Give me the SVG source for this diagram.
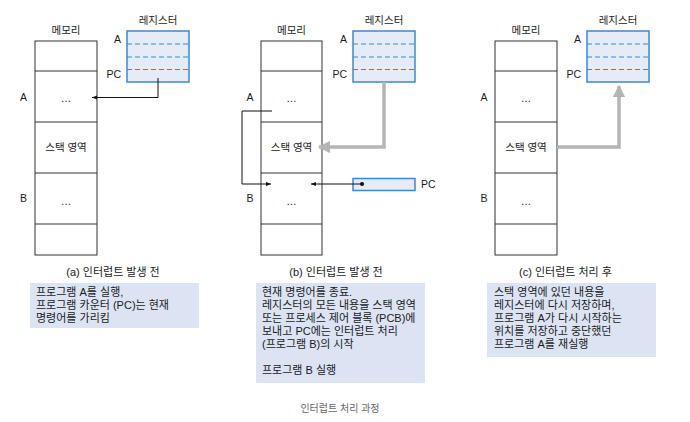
<svg xmlns="http://www.w3.org/2000/svg" width="690" height="422" viewBox="0 0 690 422">
<style>
text{font-family:"Liberation Sans","Noto Sans CJK KR",sans-serif;fill:#1a1a1a;}
.lbl{font-size:10.5px;}
.body{font-size:11px;}
.mid{text-anchor:middle;}
.end{text-anchor:end;}
.mem{fill:#fff;stroke:#333;stroke-width:1;}
.reg{fill:#e4ecf8;stroke:#3d88d4;stroke-width:1.5;}
.dash{stroke:#3d88d4;stroke-width:1.2;stroke-dasharray:5,3;}
.row{stroke:#333;stroke-width:1;}
.blk{fill:none;stroke:#111;stroke-width:1;}
.gray{fill:none;stroke:#b5b5b5;stroke-width:3.5;}
.tb{fill:#dce4f4;}
.cap{font-size:11px;}
.foot{font-size:10px;fill:#666;}
</style>
<defs>
<marker id="ah" viewBox="0 0 10 10" refX="10" refY="5" markerWidth="5" markerHeight="5" orient="auto" markerUnits="userSpaceOnUse"><path d="M0,1 L10,5 L0,9 z" fill="#111"/></marker>
<marker id="gh" viewBox="0 0 10 10" refX="9" refY="5" markerWidth="3.5" markerHeight="3.5" orient="auto"><path d="M0,0 L10,5 L0,10 z" fill="#b5b5b5"/></marker>
</defs>

<!-- Panel A -->
<g id="memA">
<text class="lbl mid" x="66" y="34">메모리</text>
<rect class="mem" x="35" y="41" width="62" height="214"/>
<line class="row" x1="35" y1="71" x2="97" y2="71"/>
<line class="row" x1="35" y1="122" x2="97" y2="122"/>
<line class="row" x1="35" y1="173" x2="97" y2="173"/>
<line class="row" x1="35" y1="224" x2="97" y2="224"/>
<text class="lbl mid" x="66" y="102">…</text>
<text class="lbl mid" x="66" y="151">스택 영역</text>
<text class="lbl mid" x="66" y="205">…</text>
<text class="lbl mid" x="23.5" y="101">A</text>
<text class="lbl mid" x="23.5" y="202">B</text>
</g>
<g id="regA">
<text class="lbl mid" x="158" y="24">레지스터</text>
<rect class="reg" x="127" y="31" width="62" height="51"/>
<line class="dash" x1="127" y1="44" x2="189" y2="44"/>
<line class="dash" x1="127" y1="57" x2="189" y2="57"/>
<line class="dash" x1="127" y1="69.5" x2="189" y2="69.5"/>
<text class="lbl end" x="121" y="43">A</text>
<text class="lbl end" x="121" y="78">PC</text>
</g>

<!-- Panel B -->
<g id="memB">
<text class="lbl mid" x="291.5" y="34">메모리</text>
<rect class="mem" x="261" y="41" width="61" height="214"/>
<line class="row" x1="261" y1="71" x2="322" y2="71"/>
<line class="row" x1="261" y1="122" x2="322" y2="122"/>
<line class="row" x1="261" y1="173" x2="322" y2="173"/>
<line class="row" x1="261" y1="224" x2="322" y2="224"/>
<text class="lbl mid" x="291.5" y="102">…</text>
<text class="lbl mid" x="291.5" y="151">스택 영역</text>
<text class="lbl mid" x="291.5" y="205">…</text>
<text class="lbl mid" x="250" y="101">A</text>
<text class="lbl mid" x="250" y="202">B</text>
</g>
<g id="regB">
<text class="lbl mid" x="384" y="24">레지스터</text>
<rect class="reg" x="353" y="31" width="62" height="51"/>
<line class="dash" x1="353" y1="44" x2="415" y2="44"/>
<line class="dash" x1="353" y1="57" x2="415" y2="57"/>
<line class="dash" x1="353" y1="69.5" x2="415" y2="69.5"/>
<text class="lbl end" x="347" y="43">A</text>
<text class="lbl end" x="347" y="78">PC</text>
</g>
<g id="pcB">
<rect class="reg" x="353" y="178.5" width="62" height="12"/>
<text class="lbl" x="421" y="188">PC</text>
</g>

<!-- Panel C -->
<g id="memC">
<text class="lbl mid" x="526" y="34">메모리</text>
<rect class="mem" x="495" y="41" width="62" height="214"/>
<line class="row" x1="495" y1="71" x2="557" y2="71"/>
<line class="row" x1="495" y1="122" x2="557" y2="122"/>
<line class="row" x1="495" y1="173" x2="557" y2="173"/>
<line class="row" x1="495" y1="224" x2="557" y2="224"/>
<text class="lbl mid" x="526" y="102">…</text>
<text class="lbl mid" x="526" y="151">스택 영역</text>
<text class="lbl mid" x="526" y="205">…</text>
<text class="lbl mid" x="484" y="101">A</text>
<text class="lbl mid" x="484" y="202">B</text>
</g>
<g id="regC">
<text class="lbl mid" x="618" y="24">레지스터</text>
<rect class="reg" x="587" y="31" width="62" height="51"/>
<line class="dash" x1="587" y1="44" x2="649" y2="44"/>
<line class="dash" x1="587" y1="57" x2="649" y2="57"/>
<line class="dash" x1="587" y1="69.5" x2="649" y2="69.5"/>
<text class="lbl end" x="581" y="43">A</text>
<text class="lbl end" x="581" y="78">PC</text>
</g>

<!-- Connectors -->
<g id="connectors">
<path class="blk" d="M158,78 V97.5 H92" marker-end="url(#ah)"/>
<path class="gray" d="M384,82 V147 H319" marker-end="url(#gh)"/>
<path class="blk" d="M272,111 H242 V184 H271" marker-end="url(#ah)"/>
<path class="blk" d="M362,184 H311" marker-end="url(#ah)"/>
<circle cx="362" cy="184" r="2" fill="#111"/>
<path class="gray" d="M557,147 H619 V86" marker-end="url(#gh)"/>
</g>

<!-- Captions and notes -->
<g id="noteA">
<text class="cap mid" x="113" y="276">(a) 인터럽트 발생 전</text>
<rect class="tb" x="30" y="283" width="169" height="45"/>
<text class="body" x="36" y="296"><tspan x="36" y="296">프로그램 A를 실행,</tspan><tspan x="36" y="309">프로그램 카운터 (PC)는 현재</tspan><tspan x="36" y="322">명령어를 가리킴</tspan></text>
</g>
<g id="noteB">
<text class="cap mid" x="336" y="276">(b) 인터럽트 발생 전</text>
<rect class="tb" x="256" y="283" width="169" height="100"/>
<text class="body" x="262" y="296"><tspan x="262" y="296">현재 명령어를 종료.</tspan><tspan x="262" y="309">레지스터의 모든 내용을 스택 영역</tspan><tspan x="262" y="322">또는 프로세스 제어 블록 (PCB)에</tspan><tspan x="262" y="335">보내고 PC에는 인터럽트 처리</tspan><tspan x="262" y="348">(프로그램 B)의 시작</tspan><tspan x="262" y="374">프로그램 B 실행</tspan></text>
</g>
<g id="noteC">
<text class="cap mid" x="565.5" y="276">(c) 인터럽트 처리 후</text>
<rect class="tb" x="487" y="283" width="169" height="74"/>
<text class="body" x="494" y="296"><tspan x="494" y="296">스택 영역에 있던 내용을</tspan><tspan x="494" y="309">레지스터에 다시 저장하며,</tspan><tspan x="494" y="322">프로그램 A가 다시 시작하는</tspan><tspan x="494" y="335">위치를 저장하고 중단했던</tspan><tspan x="494" y="348">프로그램 A를 재실행</tspan></text>
</g>
<text class="foot mid" x="340" y="412">인터럽트 처리 과정</text>
</svg>
